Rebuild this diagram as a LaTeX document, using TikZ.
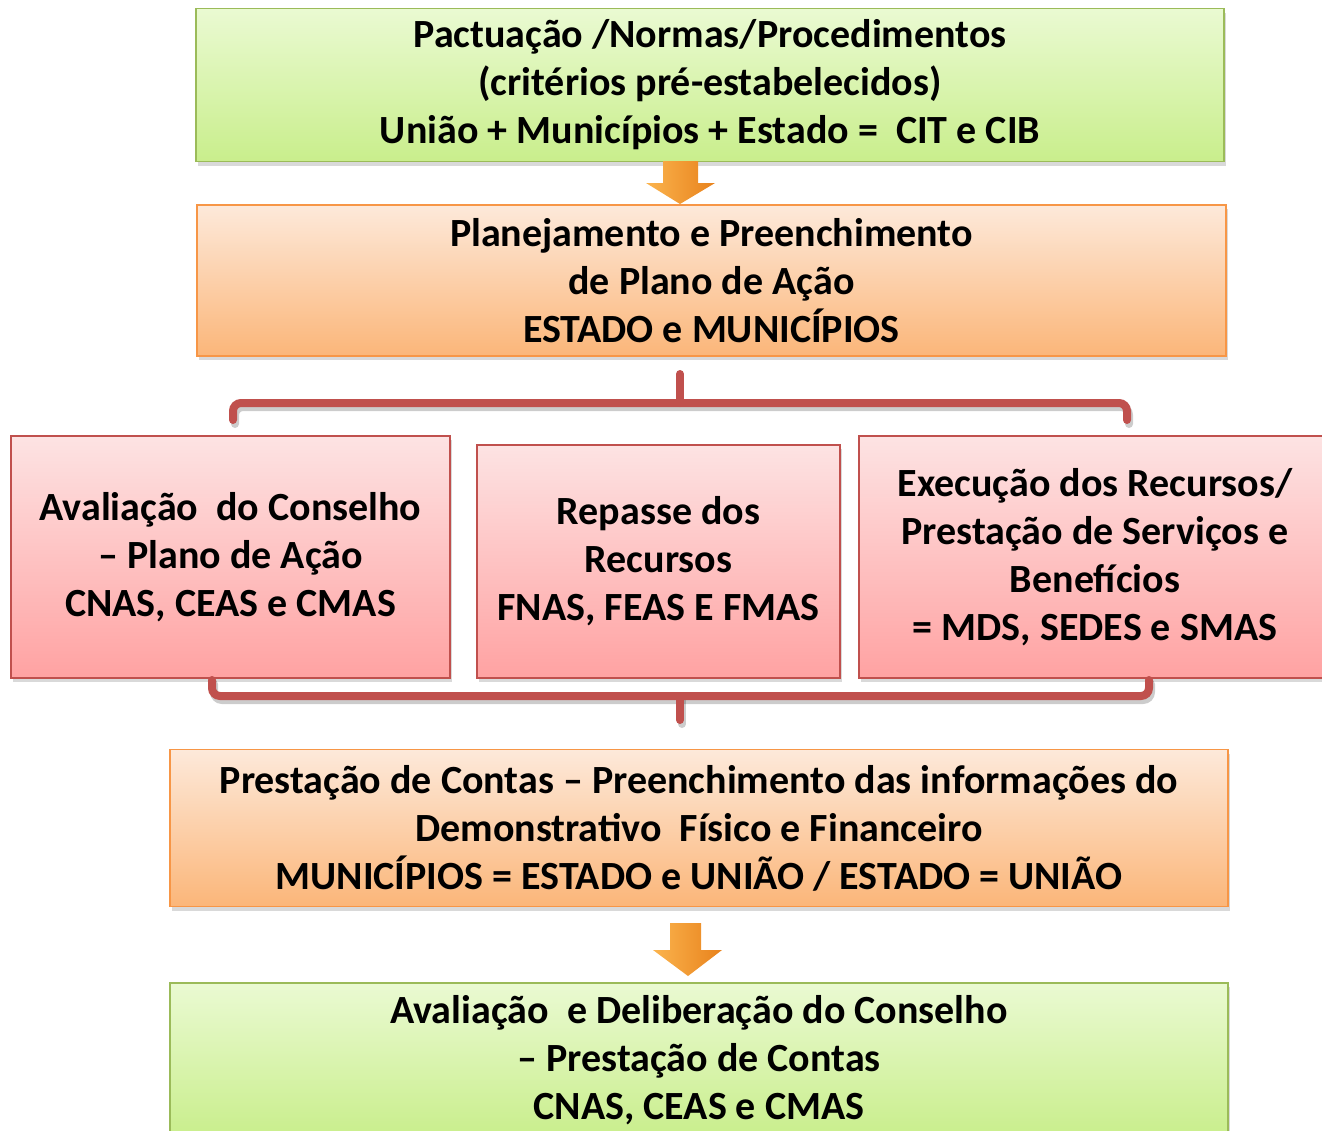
\documentclass[tikz,border=0pt]{standalone}
\usepackage{fontspec}
\setmainfont{Carlito}
\usetikzlibrary{positioning, shadows}

\definecolor{greenline}{HTML}{9BBB59}
\definecolor{greentop}{HTML}{EAFAD2}
\definecolor{greenbot}{HTML}{C9EE8C}
\definecolor{orangeline}{HTML}{F79646}
\definecolor{orangetop}{HTML}{FDE9DA}
\definecolor{orangebot}{HTML}{FBB679}
\definecolor{pinkline}{HTML}{C0504D}
\definecolor{pinktop}{HTML}{FDE3E3}
\definecolor{pinkbot}{HTML}{FFA2A2}
\definecolor{arrowlight}{HTML}{FBB44E}
\definecolor{arrowdark}{HTML}{E8821C}

\begin{document}
\begin{tikzpicture}[x=1pt, y=-1pt,
    box/.style={rectangle, draw, line width=1.5pt, align=center, inner sep=0pt,
        font=\fontsize{40}{48}\selectfont\bfseries,
        drop shadow={shadow xshift=2pt, shadow yshift=-4pt, opacity=0.3}},
    greenbox/.style={box, draw=greenline, top color=greentop, bottom color=greenbot},
    orangebox/.style={box, draw=orangeline, top color=orangetop, bottom color=orangebot},
    pinkbox/.style={box, draw=pinkline, top color=pinktop, bottom color=pinkbot},
    blockarrow/.style={left color=arrowlight, right color=arrowdark},
    bracket/.style={draw=pinkline, line width=8pt, rounded corners=8pt, line cap=round},
    bracketshadow/.style={draw=black, opacity=0.2, line width=8pt, rounded corners=8pt, line cap=round}]

    \path[use as bounding box, clip] (0,0) rectangle (1322,1130);

    % top of the flow
    \node[greenbox, minimum width=1028pt, minimum height=153pt] (pact) at (710,85)
        {Pactuação /Normas/Procedimentos\\
         (critérios pré-estabelecidos)\\
         União + Municípios + Estado =~ CIT e CIB};

    \node[orangebox, minimum width=1029pt, minimum height=151pt] (plan) at (711.5,280.5)
        {Planejamento e Preenchimento\\
         de Plano de Ação\\
         ESTADO e MUNICÍPIOS};

    \shade[blockarrow] (663,161) -- (698,161) -- (698,183) -- (715,183) -- (680,204)
        -- (646,183) -- (663,183) -- cycle;

    % three parallel steps
    \node[pinkbox, minimum width=439pt, minimum height=242pt] (aval) at (230.5,557)
        {Avaliação~ do Conselho\\
         -- Plano de Ação\\
         CNAS, CEAS e CMAS};

    \node[pinkbox, minimum width=363pt, minimum height=233pt] (repasse) at (658.5,561.5)
        {Repasse dos\\
         Recursos\\
         FNAS, FEAS E FMAS};

    \node[pinkbox, minimum width=472pt, minimum height=242pt] (exec) at (1095,557)
        {Execução dos Recursos/\\
         Prestação de Serviços e\\
         Benefícios\\
         = MDS, SEDES e SMAS};

    % brackets
    \coordinate (br_top) at (680,374);
    \coordinate (br_top_mid) at (680,403);
    \coordinate (br_bot) at (680,720);
    \coordinate (br_bot_mid) at (680,696);

    \draw[bracketshadow] (235,424) |- ([shift={(2,4)}]br_top_mid) -| (1129,424);
    \draw[bracket] (233,420) |- (br_top_mid) -| (1127,420);
    \draw[bracket] (br_top_mid) -- (br_top);

    \draw[bracketshadow] (214,684) |- ([shift={(2,4)}]br_bot_mid) -| (1151,684);
    \draw[bracketshadow] ([shift={(2,4)}]br_bot_mid) -- ([shift={(2,4)}]br_bot);
    \draw[bracket] (212,680) |- (br_bot_mid) -| (1149,680);
    \draw[bracket] (br_bot_mid) -- (br_bot);

    % bottom of the flow
    \node[orangebox, minimum width=1058pt, minimum height=157pt] (contas) at (699,828)
        {Prestação de Contas -- Preenchimento das informações do\\
         Demonstrativo~ Físico e Financeiro\\
         MUNICÍPIOS = ESTADO e UNIÃO / ESTADO = UNIÃO};

    \shade[blockarrow] (670,923) -- (701,923) -- (701,950) -- (722,950) -- (688,976)
        -- (653,950) -- (670,950) -- cycle;

    \node[greenbox, minimum width=1058pt, minimum height=154pt] (delib) at (699,1060)
        {Avaliação~ e Deliberação do Conselho\\
         -- Prestação de Contas\\
         CNAS, CEAS e CMAS};

\end{tikzpicture}
\end{document}
